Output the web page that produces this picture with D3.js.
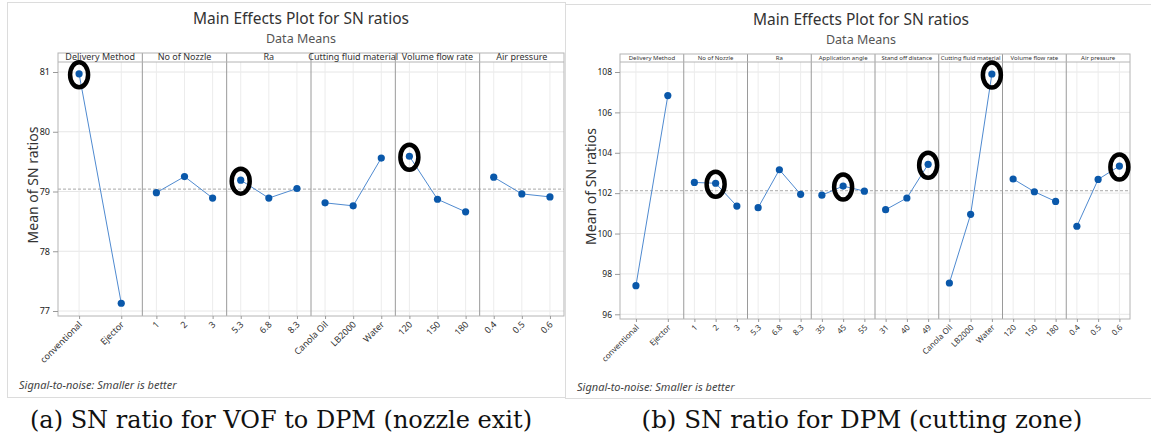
<!DOCTYPE html>
<html>
<head>
<meta charset="utf-8">
<script src="https://cdn.jsdelivr.net/npm/d3@7"></script>
<style>
  body { margin: 0; background: #fff; }
  svg text { font-family: "Noto Sans", "Open Sans", sans-serif; }
</style>
</head>
<body>
<script>
// (a) SN ratio for VOF to DPM (nozzle exit)
var factorsA = ["Delivery Method", "No of Nozzle", "Ra", "Cutting fluid material", "Volume flow rate", "Air pressure"];
var levelsA = [["conventional", "Ejector"], ["1", "2", "3"], ["5.3", "6.8", "8.3"],
               ["Canola Oil", "LB2000", "Water"], ["120", "150", "180"], ["0.4", "0.5", "0.6"]];
var meansA = [[80.97, 77.13], [78.98, 79.25, 78.89], [79.19, 78.89, 79.05],
              [78.81, 78.76, 79.56], [79.59, 78.87, 78.66], [79.24, 78.96, 78.91]];
var grandA = 79.04;
var yTicksA = [77, 78, 79, 80, 81];
var markedA = [[0, 0], [2, 0], [4, 0]];

// (b) SN ratio for DPM (cutting zone)
var factorsB = ["Delivery Method", "No of Nozzle", "Ra", "Application angle", "Stand off distance",
                "Cutting fluid material", "Volume flow rate", "Air pressure"];
var levelsB = [["conventional", "Ejector"], ["1", "2", "3"], ["5.3", "6.8", "8.3"], ["35", "45", "55"],
               ["31", "40", "49"], ["Canola Oil", "LB2000", "Water"], ["120", "150", "180"], ["0.4", "0.5", "0.6"]];
var meansB = [[97.42, 106.83], [102.53, 102.49, 101.36], [101.28, 103.16, 101.94], [101.90, 102.35, 102.10],
              [101.18, 101.76, 103.43], [97.55, 100.95, 107.90], [102.70, 102.07, 101.59], [100.36, 102.68, 103.34]];
var grandB = 102.12;
var yTicksB = [96, 98, 100, 102, 104, 106, 108];
var markedB = [[1, 1], [3, 1], [4, 2], [5, 2], [7, 2]];

var width = 1151,
    height = 434;

var svg = d3.select("body").append("svg")
    .attr("width", width)
    .attr("height", height);

function drawFigure(c) {
  var g = svg.append("g");

  // outer frame of the screenshot
  g.append("rect")
      .attr("x", c.box[0] + 0.5).attr("y", c.box[1] + 0.5)
      .attr("width", c.box[2] - c.box[0]).attr("height", c.box[3] - c.box[1])
      .attr("fill", "none").attr("stroke", "#dcdcdc");

  g.append("text")
      .attr("x", c.titleX).attr("y", c.titleY)
      .attr("text-anchor", "middle")
      .style("font-size", c.titleSize + "px").attr("fill", "#333")
      .text("Main Effects Plot for SN ratios");
  g.append("text")
      .attr("x", c.titleX).attr("y", c.subY)
      .attr("text-anchor", "middle")
      .style("font-size", c.subSize + "px").attr("fill", "#555")
      .text("Data Means");

  var y = d3.scaleLinear()
      .domain([c.yTicks[0], c.yTicks[c.yTicks.length - 1]])
      .range(c.yRange);

  var panel = d3.scaleBand()
      .domain(d3.range(c.factors.length))
      .range([c.plotL, c.plotR]);

  var xs = c.levels.map(function(lv, i) {
    return d3.scalePoint()
        .domain(lv)
        .range([panel(i), panel(i) + panel.bandwidth()])
        .padding(0.5);
  });

  // horizontal grid
  g.append("g").selectAll("line")
      .data(c.yTicks)
    .enter().append("line")
      .attr("x1", c.plotL).attr("x2", c.plotR)
      .attr("y1", function(d) { return y(d); })
      .attr("y2", function(d) { return y(d); })
      .attr("stroke", "#e6e6e6");

  // vertical grid at each level
  c.levels.forEach(function(lv, i) {
    g.append("g").selectAll("line")
        .data(lv)
      .enter().append("line")
        .attr("x1", function(d) { return xs[i](d); })
        .attr("x2", function(d) { return xs[i](d); })
        .attr("y1", c.plotTop).attr("y2", c.plotBottom)
        .attr("stroke", "#ececec");
  });

  // overall mean
  g.append("line")
      .attr("x1", c.plotL).attr("x2", c.plotR)
      .attr("y1", y(c.grand)).attr("y2", y(c.grand))
      .attr("stroke", "#a8a8a8")
      .attr("stroke-dasharray", "3,2");

  // panel dividers (through the strip)
  g.append("g").selectAll("line")
      .data(d3.range(1, c.factors.length))
    .enter().append("line")
      .attr("x1", function(i) { return panel(i); })
      .attr("x2", function(i) { return panel(i); })
      .attr("y1", c.stripTop).attr("y2", c.plotBottom)
      .attr("stroke", "#9a9a9a");

  // frame + strip
  g.append("rect")
      .attr("x", c.plotL).attr("y", c.stripTop)
      .attr("width", c.plotR - c.plotL).attr("height", c.plotBottom - c.stripTop)
      .attr("fill", "none").attr("stroke", "#b4b4b4");
  g.append("line")
      .attr("x1", c.plotL).attr("x2", c.plotR)
      .attr("y1", c.plotTop).attr("y2", c.plotTop)
      .attr("stroke", "#b4b4b4");

  g.append("g").selectAll("text")
      .data(c.factors)
    .enter().append("text")
      .attr("x", function(d, i) { return panel(i) + panel.bandwidth() / 2; })
      .attr("y", c.plotTop - 2)
      .attr("text-anchor", "middle")
      .style("font-size", c.headSize + "px")
      .attr("fill", "#333")
      .text(function(d) { return d; });

  // y axis
  var yAxis = g.append("g")
      .attr("transform", "translate(" + c.plotL + ",0)")
      .call(d3.axisLeft(y).tickValues(c.yTicks).tickFormat(d3.format("d")).tickSize(5).tickPadding(3));
  yAxis.select(".domain").remove();
  yAxis.selectAll("line").attr("stroke", "#999");
  yAxis.selectAll("text")
      .style("font-size", c.tickSize + "px")
      .style("font-family", "'Noto Sans', sans-serif")
      .attr("fill", "#222");

  // x axes, one per panel
  c.levels.forEach(function(lv, i) {
    var ax = g.append("g")
        .attr("transform", "translate(0," + c.plotBottom + ")")
        .call(d3.axisBottom(xs[i]).tickSize(3));
    ax.select(".domain").remove();
    ax.selectAll("line").attr("stroke", "#999");
    ax.selectAll("text")
        .attr("x", 0).attr("y", 0).attr("dy", 0)
        .attr("text-anchor", "end")
        .attr("transform", "translate(" + c.xLabOff[0] + "," + c.xLabOff[1] + ") rotate(-45)")
        .style("font-size", c.xTickSize + "px")
        .style("font-family", "'Noto Sans', sans-serif")
        .attr("fill", "#333");
  });

  // effect lines and points
  var line = d3.line()
      .x(function(d) { return d.x; })
      .y(function(d) { return d.y; });

  c.means.forEach(function(vals, i) {
    var pts = vals.map(function(v, j) { return { x: xs[i](c.levels[i][j]), y: y(v) }; });
    g.append("path")
        .attr("d", line(pts))
        .attr("fill", "none")
        .attr("stroke", "#4f8ad0")
        .attr("stroke-width", 1);
    g.append("g").selectAll("circle")
        .data(pts)
      .enter().append("circle")
        .attr("cx", function(d) { return d.x; })
        .attr("cy", function(d) { return d.y; })
        .attr("r", 3.6)
        .attr("fill", "#0a58aa");
  });

  // hand-drawn marks
  g.append("g").selectAll("ellipse")
      .data(c.marked)
    .enter().append("ellipse")
      .attr("cx", function(d) { return xs[d[0]](c.levels[d[0]][d[1]]); })
      .attr("cy", function(d) { return y(c.means[d[0]][d[1]]) + 1; })
      .attr("rx", 9)
      .attr("ry", 12.5)
      .attr("fill", "none")
      .attr("stroke", "#000")
      .attr("stroke-width", 4.5);

  g.append("text")
      .attr("transform", "translate(" + c.yLabX + "," + ((c.plotTop + c.plotBottom) / 2 - 4) + ") rotate(-90)")
      .attr("text-anchor", "middle")
      .style("font-size", c.yLabSize + "px")
      .attr("fill", "#333")
      .text("Mean of SN ratios");

  g.append("text")
      .attr("x", c.noteX).attr("y", c.noteY)
      .style("font-size", c.noteSize + "px")
      .style("font-style", "italic")
      .attr("fill", "#444")
      .text("Signal-to-noise: Smaller is better");

  g.append("text")
      .attr("x", c.capX).attr("y", 428)
      .attr("text-anchor", "middle")
      .style("font-family", "'DejaVu Serif', serif")
      .style("font-size", c.capSize + "px")
      .attr("fill", "#111")
      .text(c.caption);
}

drawFigure({
  factors: factorsA, levels: levelsA, means: meansA, grand: grandA, yTicks: yTicksA, marked: markedA,
  box: [7, 2, 565, 397],
  titleX: 301, titleY: 24, subY: 43, titleSize: 15.5, subSize: 12.5,
  plotL: 58, plotR: 564, stripTop: 53, plotTop: 62, plotBottom: 316,
  yRange: [311, 72],
  headSize: 9, tickSize: 9, xTickSize: 9, xLabOff: [3, 9],
  yLabX: 38, yLabSize: 14,
  noteX: 19, noteY: 389, noteSize: 11,
  capX: 281, capSize: 24, caption: "(a) SN ratio for VOF to DPM (nozzle exit)"
});

drawFigure({
  factors: factorsB, levels: levelsB, means: meansB, grand: grandB, yTicks: yTicksB, marked: markedB,
  box: [565, 4, 1151, 398],
  titleX: 861, titleY: 25, subY: 44, titleSize: 15.5, subSize: 12.5,
  plotL: 620, plotR: 1130, stripTop: 54, plotTop: 62, plotBottom: 319,
  yRange: [314.3, 72],
  headSize: 6, tickSize: 8.5, xTickSize: 8, xLabOff: [3, 9],
  yLabX: 596, yLabSize: 14,
  noteX: 577, noteY: 391, noteSize: 11,
  capX: 862, capSize: 24.5, caption: "(b) SN ratio for DPM (cutting zone)"
});
</script>
</body>
</html>
